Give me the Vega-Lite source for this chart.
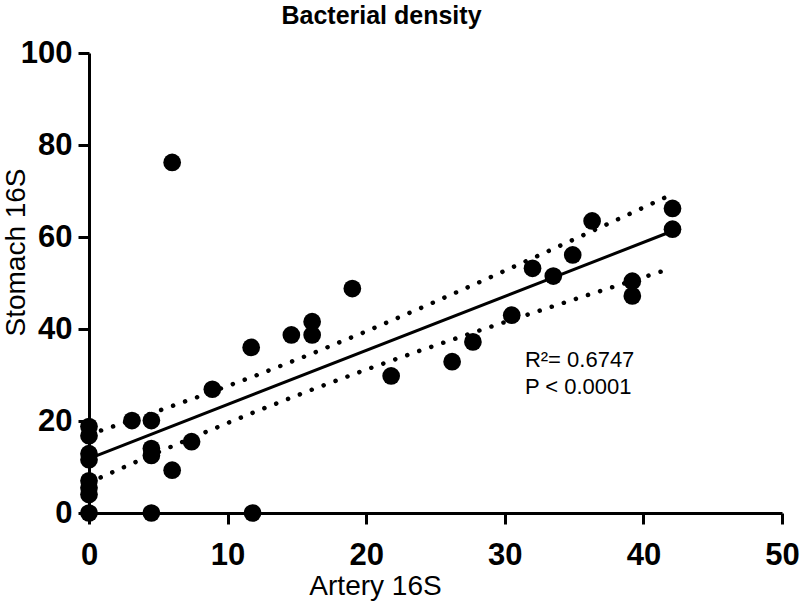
{
  "$schema": "https://vega.github.io/schema/vega-lite/v6.json",
  "width": 693,
  "height": 460,
  "autosize": "none",
  "padding": {"left": 89, "top": 53, "right": 18, "bottom": 88},
  "background": "white",
  "title": {
    "text": "Bacterial density",
    "font": "Liberation Sans",
    "fontSize": 25,
    "fontWeight": "bold",
    "color": "black",
    "anchor": "middle",
    "frame": "group",
    "dx": -54,
    "offset": -12,
    "baseline": "alphabetic"
  },
  "datasets": {
    "points": [
      {"artery": 0, "stomach": 0},
      {"artery": 0, "stomach": 4.0},
      {"artery": 0, "stomach": 5.5},
      {"artery": 0, "stomach": 7.0},
      {"artery": 0, "stomach": 11.6},
      {"artery": 0, "stomach": 12.9},
      {"artery": 0, "stomach": 16.8},
      {"artery": 0, "stomach": 18.8},
      {"artery": 3.1, "stomach": 20.1},
      {"artery": 4.5, "stomach": 20.1},
      {"artery": 4.5, "stomach": 14.0},
      {"artery": 4.5, "stomach": 12.5},
      {"artery": 4.5, "stomach": 0},
      {"artery": 6.0, "stomach": 9.3},
      {"artery": 6.0, "stomach": 76.2},
      {"artery": 7.4, "stomach": 15.5},
      {"artery": 8.9, "stomach": 26.9},
      {"artery": 11.7, "stomach": 36.0},
      {"artery": 11.8, "stomach": 0},
      {"artery": 14.6, "stomach": 38.7},
      {"artery": 16.1, "stomach": 38.7},
      {"artery": 16.1, "stomach": 41.6},
      {"artery": 19.0, "stomach": 48.8},
      {"artery": 21.8, "stomach": 29.8},
      {"artery": 26.2, "stomach": 32.9},
      {"artery": 27.7, "stomach": 37.2},
      {"artery": 30.5, "stomach": 43.0},
      {"artery": 32.0, "stomach": 53.2},
      {"artery": 33.5, "stomach": 51.5},
      {"artery": 34.9, "stomach": 56.1},
      {"artery": 36.3, "stomach": 63.5},
      {"artery": 39.2, "stomach": 50.4},
      {"artery": 39.2, "stomach": 47.2},
      {"artery": 42.1, "stomach": 66.2},
      {"artery": 42.1, "stomach": 61.7}
    ],
    "fit": [
      {"artery": 0, "stomach": 11.83},
      {"artery": 42.1, "stomach": 61.3}
    ],
    "band": [
      {"artery": 0, "stomach": 17.05, "bound": "upper"},
      {"artery": 4, "stomach": 21.14, "bound": "upper"},
      {"artery": 8, "stomach": 25.38, "bound": "upper"},
      {"artery": 12, "stomach": 29.84, "bound": "upper"},
      {"artery": 16, "stomach": 34.54, "bound": "upper"},
      {"artery": 20, "stomach": 39.48, "bound": "upper"},
      {"artery": 24, "stomach": 44.64, "bound": "upper"},
      {"artery": 28, "stomach": 49.95, "bound": "upper"},
      {"artery": 32, "stomach": 55.37, "bound": "upper"},
      {"artery": 36, "stomach": 60.86, "bound": "upper"},
      {"artery": 40, "stomach": 66.4, "bound": "upper"},
      {"artery": 42.1, "stomach": 69.32, "bound": "upper"},
      {"artery": 0, "stomach": 6.61, "bound": "lower"},
      {"artery": 4, "stomach": 11.92, "bound": "lower"},
      {"artery": 8, "stomach": 17.08, "bound": "lower"},
      {"artery": 12, "stomach": 22.02, "bound": "lower"},
      {"artery": 16, "stomach": 26.72, "bound": "lower"},
      {"artery": 20, "stomach": 31.18, "bound": "lower"},
      {"artery": 24, "stomach": 35.42, "bound": "lower"},
      {"artery": 28, "stomach": 39.51, "bound": "lower"},
      {"artery": 32, "stomach": 43.49, "bound": "lower"},
      {"artery": 36, "stomach": 47.4, "bound": "lower"},
      {"artery": 40, "stomach": 51.26, "bound": "lower"},
      {"artery": 42.1, "stomach": 53.28, "bound": "lower"}
    ],
    "notes": [
      {"artery": 31.45, "stomach": 31.7, "label": "R²= 0.6747"},
      {"artery": 31.45, "stomach": 25.9, "label": "P < 0.0001"}
    ]
  },
  "encoding": {
    "x": {
      "field": "artery",
      "type": "quantitative",
      "scale": {"domain": [0, 50], "nice": false, "zero": false},
      "axis": {
        "title": "Artery 16S",
        "values": [0, 10, 20, 30, 40, 50],
        "labelPadding": 16,
        "labelFlush": false,
        "titleX": 286,
        "titleY": 81,
        "titleAlign": "center",
        "titleBaseline": "alphabetic",
        "titleAnchor": null
      }
    },
    "y": {
      "field": "stomach",
      "type": "quantitative",
      "scale": {"domain": [0, 100], "nice": false, "zero": false},
      "axis": {
        "title": "Stomach 16S",
        "values": [0, 20, 40, 60, 80, 100],
        "labelPadding": 6,
        "labelFlush": false,
        "titleX": -65,
        "titleY": 199,
        "titleAngle": -90,
        "titleAlign": "center",
        "titleBaseline": "alphabetic",
        "titleAnchor": null
      }
    }
  },
  "layer": [
    {
      "data": {"name": "band"},
      "mark": {"type": "line", "color": "black", "strokeWidth": 4.5, "strokeCap": "round", "strokeDash": [0.1, 12.6]},
      "encoding": {"detail": {"field": "bound", "type": "nominal"}}
    },
    {
      "data": {"name": "fit"},
      "mark": {"type": "line", "color": "black", "strokeWidth": 3}
    },
    {
      "data": {"name": "points"},
      "mark": {"type": "point", "filled": true, "shape": "circle", "color": "black", "opacity": 1, "size": 314}
    },
    {
      "data": {"name": "notes"},
      "mark": {"type": "text", "align": "left", "baseline": "alphabetic", "font": "Liberation Sans", "fontSize": 22, "color": "black"},
      "encoding": {"text": {"field": "label", "type": "nominal"}}
    }
  ],
  "config": {
    "view": {"stroke": null},
    "axis": {
      "grid": false,
      "domainColor": "black",
      "domainWidth": 3,
      "tickColor": "black",
      "tickWidth": 3,
      "tickSize": 11,
      "labelFont": "Liberation Sans",
      "labelFontSize": 31,
      "labelFontWeight": "bold",
      "labelColor": "black",
      "titleFont": "Liberation Sans",
      "titleFontSize": 28,
      "titleFontWeight": "normal",
      "titleColor": "black"
    }
  }
}
